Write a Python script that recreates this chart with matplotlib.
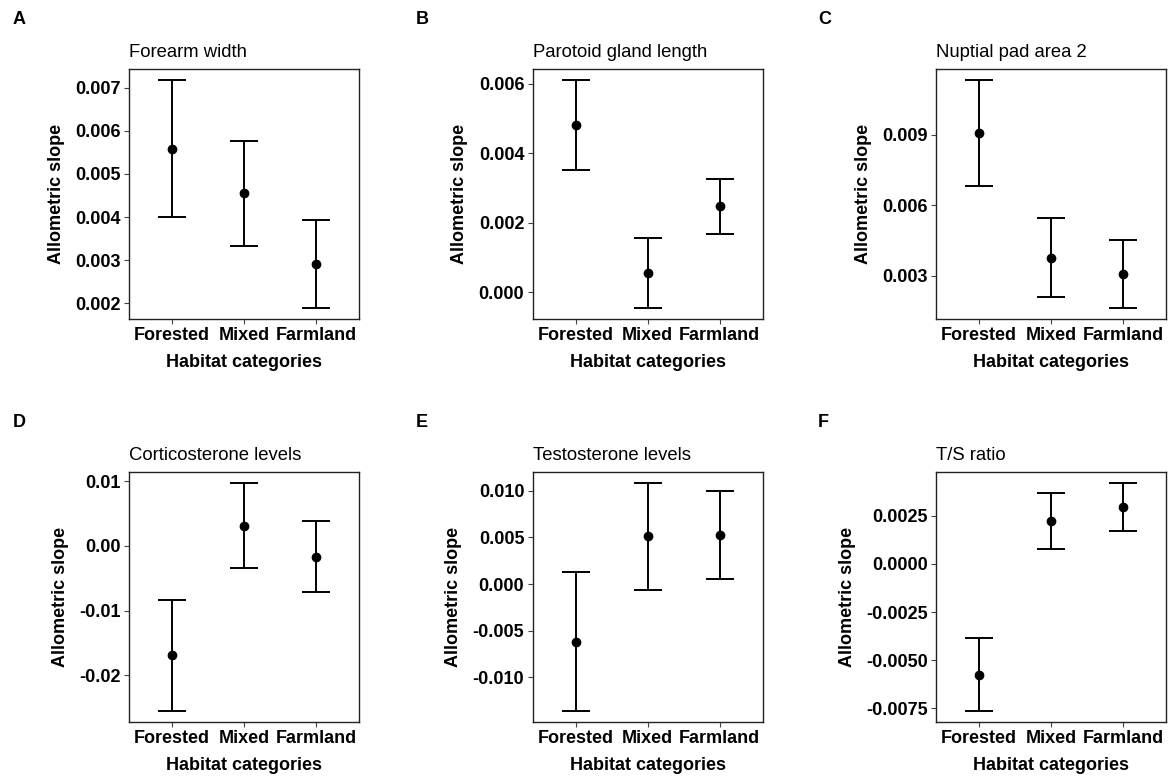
import matplotlib
matplotlib.use("Agg")
import matplotlib.pyplot as plt
from matplotlib.ticker import FixedLocator, FixedFormatter

plt.rcParams['font.family'] = ['Liberation Sans', 'DejaVu Sans']

categories = ["Forested", "Mixed", "Farmland"]
panel_letters = ["A", "B", "C", "D", "E", "F"]
titles = ["Forearm width", "Parotoid gland length", "Nuptial pad area 2",
          "Corticosterone levels", "Testosterone levels", "T/S ratio"]

# estimate, lower, upper for Forested, Mixed, Farmland
est_A = [0.00558, 0.00455, 0.00292]
low_A = [0.00400, 0.00334, 0.00190]
up_A = [0.00717, 0.00576, 0.00393]

est_B = [0.00481, 0.00055, 0.00247]
low_B = [0.00353, -0.00045, 0.00168]
up_B = [0.00610, 0.00156, 0.00325]

est_C = [0.00907, 0.00376, 0.00306]
low_C = [0.00684, 0.00207, 0.00163]
up_C = [0.01133, 0.00546, 0.00450]

est_D = [-0.01692, 0.00314, -0.00169]
low_D = [-0.02548, -0.00343, -0.00712]
up_D = [-0.00835, 0.00969, 0.00380]

est_E = [-0.00619, 0.00512, 0.00523]
low_E = [-0.01359, -0.00061, 0.00053]
up_E = [0.00125, 0.01081, 0.01000]

est_F = [-0.00575, 0.00223, 0.00296]
low_F = [-0.00762, 0.00076, 0.00173]
up_F = [-0.00386, 0.00367, 0.00419]

ticks_A = [0.002, 0.003, 0.004, 0.005, 0.006, 0.007]
labels_A = ["0.002", "0.003", "0.004", "0.005", "0.006", "0.007"]
ticks_B = [0.000, 0.002, 0.004, 0.006]
labels_B = ["0.000", "0.002", "0.004", "0.006"]
ticks_C = [0.003, 0.006, 0.009]
labels_C = ["0.003", "0.006", "0.009"]
ticks_D = [-0.02, -0.01, 0.00, 0.01]
labels_D = ["-0.02", "-0.01", "0.00", "0.01"]
ticks_E = [-0.010, -0.005, 0.000, 0.005, 0.010]
labels_E = ["-0.010", "-0.005", "0.000", "0.005", "0.010"]
ticks_F = [-0.0075, -0.0050, -0.0025, 0.0000, 0.0025]
labels_F = ["-0.0075", "-0.0050", "-0.0025", "0.0000", "0.0025"]

panels = [
    (est_A, low_A, up_A, ticks_A, labels_A),
    (est_B, low_B, up_B, ticks_B, labels_B),
    (est_C, low_C, up_C, ticks_C, labels_C),
    (est_D, low_D, up_D, ticks_D, labels_D),
    (est_E, low_E, up_E, ticks_E, labels_E),
    (est_F, low_F, up_F, ticks_F, labels_F),
]

W, H = 1173, 778
fig = plt.figure(figsize=(W / 100, H / 100), dpi=100)

lefts_px = [129, 532.7, 936]
tops_px = [69, 472]
aw, ah = 230, 250
letter_x_px = [13, 416, 818]
letter_y_px = [24, 427]

FS = 13
for i, (est, low, up, ticks, tlabels) in enumerate(panels):
    r, c = divmod(i, 3)
    left = lefts_px[c] / W
    bottom = 1 - (tops_px[r] + ah) / H
    ax = fig.add_axes([left, bottom, aw / W, ah / H])
    x = list(range(1, len(categories) + 1))
    yerr = [[e - l for e, l in zip(est, low)], [u - e for e, u in zip(est, up)]]
    ax.errorbar(x, est, yerr=yerr, fmt='o', color='black', ms=6,
                elinewidth=1.4, capsize=10.3, capthick=1.4, zorder=3)
    lo = min(low); hi = max(up)
    rng = hi - lo
    ax.set_ylim(lo - 0.05 * rng, hi + 0.05 * rng)
    ax.set_xlim(0.4, 3.6)
    ax.xaxis.set_major_locator(FixedLocator(x))
    ax.xaxis.set_major_formatter(FixedFormatter(categories))
    ax.yaxis.set_major_locator(FixedLocator(ticks))
    ax.yaxis.set_major_formatter(FixedFormatter(tlabels))
    for sp in ax.spines.values():
        sp.set_linewidth(1.0)
        sp.set_color('#222222')
    ax.tick_params(axis='both', direction='out', length=3.5, width=0.8,
                   color='#444444', pad=2.5, labelsize=FS, labelcolor='black')
    for lab in ax.get_xticklabels() + ax.get_yticklabels():
        lab.set_fontweight('bold')
    ax.set_xlabel("Habitat categories", fontsize=FS, fontweight='bold', labelpad=7)
    ax.set_ylabel("Allometric slope", fontsize=FS, fontweight='bold', labelpad=7.5)
    ax.annotate(titles[i], xy=(0, 1), xycoords='axes fraction',
                xytext=(0, 8.6), textcoords='offset points',
                ha='left', va='baseline', fontsize=13.3)
    fig.text(letter_x_px[c] / W, 1 - letter_y_px[r] / H, panel_letters[i],
             fontsize=13, fontweight='bold', ha='left', va='baseline')

fig.savefig("out.png", dpi=100)
